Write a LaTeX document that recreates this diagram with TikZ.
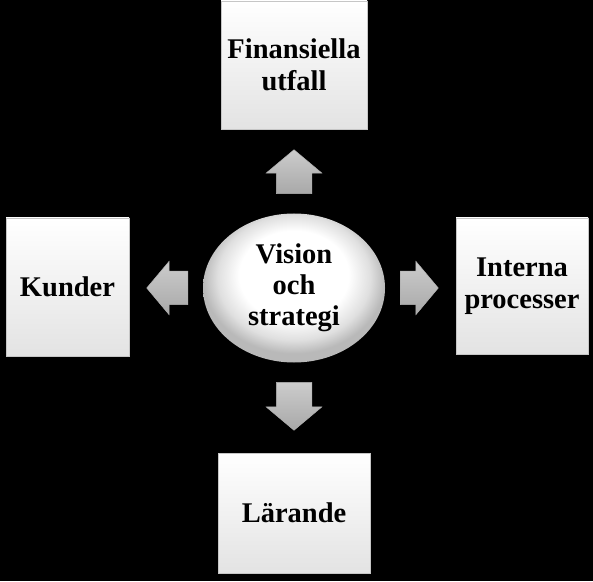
\documentclass[tikz,border=0pt]{standalone}
\usepackage{fontspec}
\setmainfont{Liberation Serif}
\usetikzlibrary{shapes.geometric,shapes.arrows,positioning}

\pgfdeclareradialshading{klot}{\pgfpoint{0bp}{6bp}}{%
    color(0bp)=(white); color(15bp)=(white); color(21bp)=(gray!25);
    color(25bp)=(gray!55); color(50bp)=(gray!55)}

\begin{document}
\begin{tikzpicture}[x=1pt,y=1pt,
    box/.style={rectangle, minimum width=#1, top color=white, bottom color=gray!22,
        draw=gray!45, line width=0.8pt, align=center, font=\fontsize{28.5}{32}\selectfont\bfseries},
    pil/.style={single arrow, anchor=tail, minimum height=44pt, minimum width=55pt,
        single arrow head extend=10pt, single arrow tip angle=100,
        top color=gray!40, bottom color=gray!68, draw=gray!60, line width=0.5pt,
        shape border rotate=#1},
    lodrat/.style={pil=#1, inner xsep=17.5pt, inner ysep=1pt},
    vagrat/.style={pil=#1, minimum width=51pt, inner xsep=1pt, inner ysep=16.5pt}]
    \useasboundingbox[fill=black] (0,0) rectangle (593,581);

    \node[ellipse, minimum width=182pt, minimum height=149pt, shading=klot,
        align=center, font=\fontsize{28.5}{31}\selectfont\bfseries]
        (vision) at (294,293) {Vision\\och\\strategi};

    \node[box=146pt, minimum height=128pt] (finans) at (294,516) {Finansiella\\utfall};
    \node[box=123pt, minimum height=138pt] (kunder) at (67.5,294) {Kunder};
    \node[box=132pt, minimum height=136pt] (interna) at (522,295) {Interna\\processer};
    \node[box=152pt, minimum height=120pt] (larande) at (294,68) {Lärande};

    \node[lodrat=90] (upp) at (294,387) {};
    \node[vagrat=180, minimum height=41pt] (vanster) at (188,293) {};
    \node[vagrat=0, minimum height=38pt] (hoger) at (400,293) {};
    \node[lodrat=270, minimum height=48pt] (ner) at (294,199) {};
\end{tikzpicture}
\end{document}
